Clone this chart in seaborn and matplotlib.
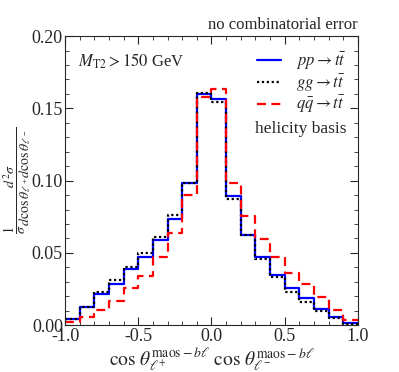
import numpy as np
import pandas as pd
import matplotlib
matplotlib.use("Agg")
import matplotlib.pyplot as plt
import seaborn as sns
from matplotlib.ticker import MultipleLocator, FormatStrFormatter

# bin edges and per-bin normalised distributions
edges = np.linspace(-1.0, 1.0, 21)
centers = 0.5 * (edges[:-1] + edges[1:])

pp_vals = [0.0040, 0.0125, 0.0212, 0.0288, 0.0385, 0.0473, 0.0588, 0.0736, 0.0980, 0.1600,
           0.1564, 0.0895, 0.0627, 0.0468, 0.0346, 0.0258, 0.0185, 0.0115, 0.0058, 0.0012]
gg_vals = [0.0042, 0.0127, 0.0228, 0.0311, 0.0404, 0.0500, 0.0607, 0.0759, 0.0980, 0.1603,
           0.1546, 0.0872, 0.0625, 0.0461, 0.0334, 0.0231, 0.0161, 0.0099, 0.0048, 0.0007]
qq_vals = [0.0020, 0.0058, 0.0108, 0.0168, 0.0254, 0.0341, 0.0473, 0.0639, 0.0900, 0.1580,
           0.1636, 0.0985, 0.0754, 0.0593, 0.0468, 0.0362, 0.0284, 0.0196, 0.0108, 0.0035]

series = [
    (r"$pp \to t\bar{t}$", pp_vals, "#0000ff", "-"),
    (r"$gg \to t\bar{t}$", gg_vals, "black", (0, (1, 1.2))),
    (r"$q\bar{q} \to t\bar{t}$", qq_vals, "#ff0000", (0, (4, 2.5))),
]

sns.set_style("ticks")
plt.rcParams["font.family"] = ["Liberation Serif", "DejaVu Serif"]
plt.rcParams["mathtext.fontset"] = "stix"

fig = plt.figure(figsize=(3.99, 3.72), dpi=100)
ax = fig.add_axes([0.163, 0.126, 0.734, 0.777])

for label, vals, color, ls in series:
    df = pd.DataFrame({"x": centers, "w": vals})
    sns.histplot(data=df, x="x", weights="w", bins=list(edges), element="step", fill=False,
                 color=color, linestyle=ls, linewidth=1.6, label=label, ax=ax)

ax.set_xlim(-1.0, 1.0)
ax.set_ylim(0.0, 0.20)
ax.xaxis.set_major_locator(MultipleLocator(0.5))
ax.xaxis.set_minor_locator(MultipleLocator(0.1))
ax.yaxis.set_major_locator(MultipleLocator(0.05))
ax.yaxis.set_minor_locator(MultipleLocator(0.01))
ax.xaxis.set_major_formatter(FormatStrFormatter("%.1f"))
ax.yaxis.set_major_formatter(FormatStrFormatter("%.2f"))
ax.tick_params(which="both", direction="in", top=True, right=True, labelsize=13, pad=2)
ax.tick_params(axis="y", pad=1.5)
ax.tick_params(which="major", length=6, width=0.8)
ax.tick_params(which="minor", length=3, width=0.6)
for s in ax.spines.values():
    s.set_linewidth(0.8)

ax.set_xlabel(r"$\cos\,\theta^{\mathrm{maos}-b\ell}_{\ell^{+}}\ \cos\,\theta^{\mathrm{maos}-b\ell}_{\ell^{-}}$",
              fontsize=14, va="bottom")
ax.xaxis.set_label_coords(0.5, -0.165)
ax.set_ylabel(r"$\dfrac{1}{\sigma}\dfrac{d^2\sigma}{d\cos\theta_{\ell^+}d\cos\theta_{\ell^-}}$",
              fontsize=10, va="center")
ax.yaxis.set_label_coords(-0.163, 0.5)

ax.text(1.0, 1.012, "no combinatorial error", transform=ax.transAxes,
        ha="right", va="bottom", fontsize=12)
ax.text(0.044, 0.913, r"$M_{\mathrm{T2}} > 150$ GeV", transform=ax.transAxes,
        ha="left", va="center", fontsize=12)

leg = ax.legend(loc="upper right", bbox_to_anchor=(1.0, 0.99), frameon=False, fontsize=12,
                handlelength=1.45, labelspacing=0.05, handletextpad=0.9, borderaxespad=0.3)
ax.text(0.962, 0.678, "helicity basis", transform=ax.transAxes,
        ha="right", va="center", fontsize=12.5)

fig.savefig("out.png", dpi=100)
